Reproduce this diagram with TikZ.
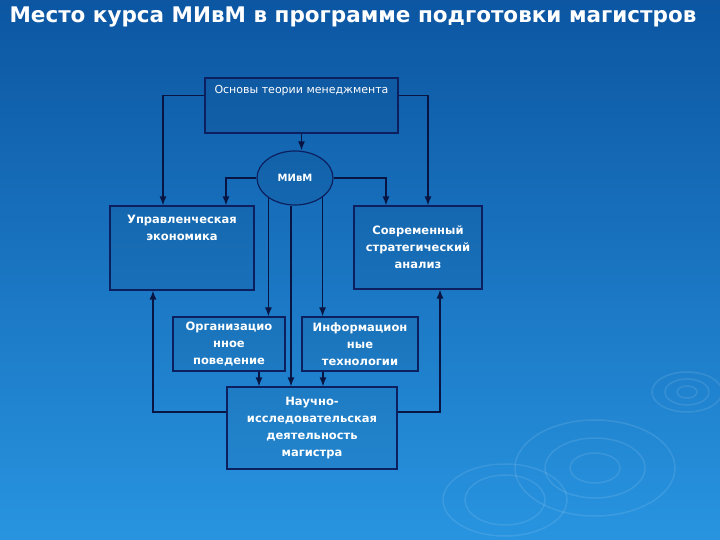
\documentclass[tikz,border=0pt]{standalone}
\usepackage{fontspec}
\setmainfont{DejaVu Sans}
\usetikzlibrary{shapes.geometric,arrows.meta}
\definecolor{bgtop}{RGB}{12,86,162}
\definecolor{bgbot}{RGB}{40,148,224}
\definecolor{navy}{RGB}{8,20,66}
\definecolor{boxline}{RGB}{12,32,96}
\tikzset{
  blok/.style={draw=boxline, line width=1.2pt, fill=black, fill opacity=0.05, text opacity=1,
    text=white, align=center, font=\bfseries\fontsize{11.5}{17}\selectfont},
  toptext/.style={anchor=north, text=white, align=center},
  arr/.style={draw=navy, line width=1.3pt, -{Latex[length=9pt,width=7pt]}},
  ripple/.style={draw=white, line width=1.5pt, opacity=0.10}
}
\begin{document}
\begin{tikzpicture}[x=1pt,y=1pt]
\useasboundingbox (0,0) rectangle (720,540);
\shade[top color=bgtop, bottom color=bgbot] (0,0) rectangle (720,540);
% background rings
\draw[ripple] (687,148) ellipse (10 and 6) (687,148) ellipse (22 and 13) (687,148) ellipse (35 and 20);
\draw[ripple] (595,72) ellipse (25 and 15) (595,72) ellipse (50 and 30) (595,72) ellipse (80 and 48);
\draw[ripple] (505,40) ellipse (40 and 25) (505,40) ellipse (62 and 36);

\node[anchor=west, text=white, font=\bfseries\fontsize{21.5}{26}\selectfont] (title) at (6,523)
  {Место курса МИвМ в программе подготовки магистров};

\node[blok, minimum width=193pt, minimum height=55pt,
  label={[toptext, yshift=-4pt, font=\fontsize{11}{13}\selectfont]north:Основы теории менеджмента}] (osn) at (301.5,434.5) {};
\node[blok, ellipse, minimum width=76pt, minimum height=54pt, font=\bfseries\fontsize{10}{12}\selectfont] (mivm) at (295,362) {МИвМ};
\node[blok, minimum width=144pt, minimum height=84pt,
  label={[toptext, yshift=-6pt, font=\bfseries\fontsize{11.5}{17}\selectfont]north:Управленческая\\экономика}] (upr) at (182,292) {};
\node[blok, minimum width=128pt, minimum height=83pt] (sovr) at (418,292.5) {Современный\\стратегический\\анализ};
\node[blok, minimum width=112pt, minimum height=54pt] (org) at (229,196) {Организацио\\нное\\поведение};
\node[blok, minimum width=116pt, minimum height=54pt] (inf) at (360,196) {Информацион\\ные\\технологии};
\node[blok, minimum width=170pt, minimum height=82pt] (nid) at (312,112) {Научно-\\исследовательская\\деятельность\\магистра};

\draw[arr] ([yshift=10pt]osn.west) -| ([xshift=-19pt]upr.north);
\draw[arr] ([yshift=10pt]osn.east) -| ([xshift=10pt]sovr.north);
\draw[arr] (osn.south) -- (osn.south |- mivm.north);
\draw[arr] (mivm.west) -| ([xshift=44pt]upr.north);
\draw[arr] (mivm.east) -| ([xshift=-32pt]sovr.north);
\draw[arr] (mivm.217) -- (mivm.217 |- org.north);
\draw[arr] ([xshift=-4pt]mivm.south) -- ([xshift=-4pt]mivm.south |- nid.north);
\draw[arr] (mivm.325) -- (mivm.325 |- inf.north);
\draw[arr] ([xshift=30pt]org.south) -- ([xshift=30pt]org.south |- nid.north);
\draw[arr] ([xshift=-37pt]inf.south) -- ([xshift=-37pt]inf.south |- nid.north);
\draw[arr] ([yshift=16pt]nid.west) -| ([xshift=-29pt]upr.south);
\draw[arr] ([yshift=16pt]nid.east) -| ([xshift=22pt]sovr.south);
\end{tikzpicture}
\end{document}
